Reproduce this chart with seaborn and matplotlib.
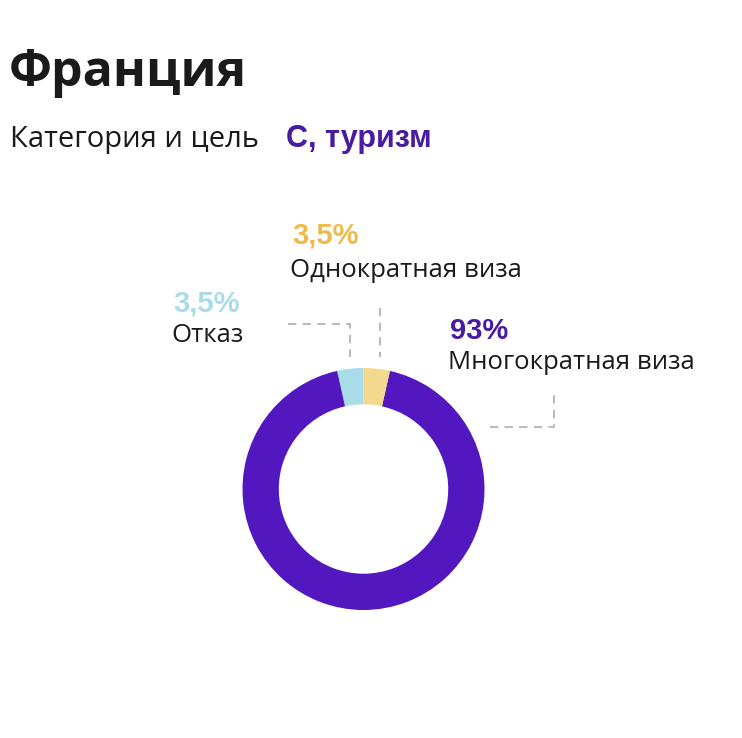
import numpy as np
import seaborn as sns
import matplotlib.pyplot as plt
from matplotlib.lines import Line2D

sns.set_theme(style='white')
plt.rcParams['font.family'] = ['Open Sans', 'DejaVu Sans']

# данные
labels = ['Отказ', 'Многократная виза', 'Однократная виза']
values = [3.5, 93, 3.5]
pct_text = ['3,5%', '93%', '3,5%']
colors = ['#A8DCE8', '#5217BE', '#F2D98D']
pct_colors = ['#A8DCE8', '#4A1AA0', '#F0BA48']

W, H = 742, 738
fig = plt.figure(figsize=(W / 100, H / 100), dpi=100)


def fx(px):
    return px / W


def fy(py):
    return 1 - py / H


# заголовок
fig.text(fx(9), fy(86), 'Франция', fontsize=36, fontweight='bold', color='#1a1a1a', va='baseline')
fig.text(fx(10), fy(147), 'Категория и цель', fontsize=21, color='#1a1a1a', va='baseline')
fig.text(fx(286), fy(147), 'С, туризм', fontsize=22, fontweight='bold', color='#4A1AA0',
         va='baseline', family='Liberation Sans')

# кольцо
cx, cy, r = 363.5, 489, 121
ax = fig.add_axes([fx(cx - r), fy(cy + r), 2 * r / W, 2 * r / H])
ax.pie(values, colors=colors, startangle=90, counterclock=True,
       wedgeprops=dict(width=0.3, edgecolor='none'), radius=1)
ax.set_xlim(-1, 1)
ax.set_ylim(-1, 1)
ax.set_aspect('equal')
ax.axis('off')

# подписи
pos = {
    'Отказ': (173, 311, 342),
    'Многократная виза': (450, 339, 369),
    'Однократная виза': (292, 243, 277),
}
for lab, p, pc in zip(labels, pct_text, pct_colors):
    x, y1, y2 = pos[lab]
    fig.text(fx(x), fy(y1), p, fontsize=21, fontweight='bold', color=pc, va='baseline',
             family='Liberation Sans')
    fig.text(fx(x - 2), fy(y2), lab, fontsize=18.5, color='#1a1a1a', va='baseline')

# выноски
lines = [
    ([288, 350, 350], [324, 324, 357]),
    ([380, 380], [308, 357]),
    ([490, 554, 554], [427, 427, 395]),
]
for xs, ys in lines:
    fig.add_artist(Line2D([fx(v) for v in xs], [fy(v) for v in ys], color='#BBBBBB',
                          lw=1.5, ls=(0, (4, 3))))

fig.savefig('out.png', dpi=100, facecolor='white')
